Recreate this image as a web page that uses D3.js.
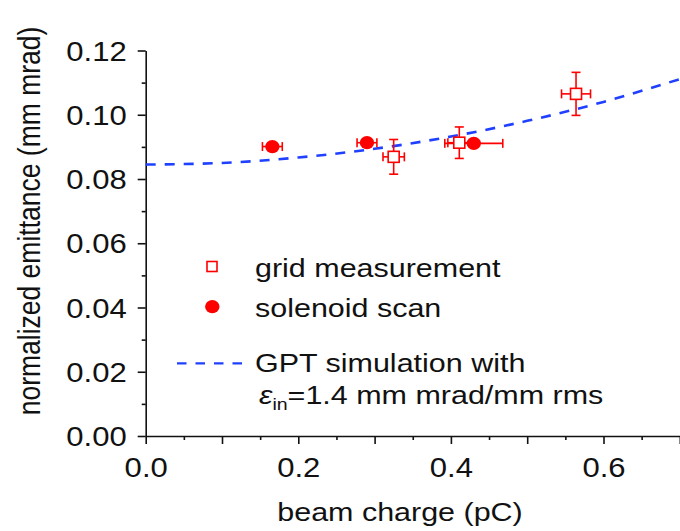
<!DOCTYPE html>
<html><head><meta charset="utf-8">
<script src="https://cdn.jsdelivr.net/npm/d3@7"></script>
<style>body{margin:0;background:#fff}svg{display:block}text{font-family:"Liberation Sans",Arial,Helvetica,sans-serif;fill:#111}</style>
</head><body>
<svg id="c" width="680" height="531"></svg>
<script>
// ---- data ----
const gridQ = [0.325, 0.411, 0.564];
const gridE = [0.0869, 0.0913, 0.1065];
const gridQErr = [0.014, 0.015, 0.019];
const gridEErr = [0.0054, 0.0049, 0.0067];
const solQ = [0.166, 0.290, 0.430];
const solE = [0.0901, 0.0913, 0.0911];
const solQErr = [0.013, 0.013, 0.038];
const solEErr = [0.0008, 0.0008, 0.0008];
const simQ = [0, 0.1, 0.2, 0.3, 0.4, 0.5, 0.6, 0.7];
const simE = [0.0845, 0.0850, 0.0867, 0.0894, 0.0932, 0.0981, 0.1040, 0.1111];
const xMajor = [0, 0.1, 0.2, 0.3, 0.4, 0.5, 0.6, 0.7];
const xLabels = [0, 0.2, 0.4, 0.6];
const xMinor = [0.05, 0.15, 0.25, 0.35, 0.45, 0.55, 0.65];
const yMajor = [0, 0.02, 0.04, 0.06, 0.08, 0.10, 0.12];
const yMinor = [0.01, 0.03, 0.05, 0.07, 0.09, 0.11];

const SX = 1.15; // horizontal stretch of the original figure's text
const RED = "#ff0000", BLUE = "#2040ff";
const svg = d3.select("#c");
const x = d3.scaleLinear().domain([0, 0.7]).range([145.7, 679.8]);
const y = d3.scaleLinear().domain([0, 0.12]).range([436, 50.5]);

// axes
const gx = svg.append("g").attr("transform", `translate(0,${y(0)})`);
gx.call(d3.axisBottom(x).tickValues(xMajor).tickSize(8).tickSizeOuter(0)
  .tickFormat(d => xLabels.some(v => Math.abs(v - d) < 1e-9) ? d3.format(".1f")(d) : ""));
gx.append("g").call(d3.axisBottom(x).tickValues(xMinor).tickSize(4).tickFormat(""))
  .select(".domain").remove();
gx.selectAll("text").attr("y", 0).attr("dy", 0)
  .attr("transform", `translate(0,41) scale(${SX},1)`).style("font-size", "27px");

const gy = svg.append("g").attr("transform", `translate(${x(0)},0)`);
gy.call(d3.axisLeft(y).tickValues(yMajor).tickSize(8).tickSizeOuter(0).tickFormat(d3.format(".2f")));
gy.append("g").call(d3.axisLeft(y).tickValues(yMinor).tickSize(4).tickFormat(""))
  .select(".domain").remove();
gy.selectAll("text").attr("x", 0).attr("dy", "0.36em")
  .attr("transform", `translate(-19,0) scale(${SX},1)`).style("font-size", "27px");
svg.selectAll(".domain, .tick line").attr("stroke", "#111").attr("stroke-width", 1.6);

// axis titles
svg.append("text").attr("transform", `translate(400,521) scale(${SX},1)`)
  .attr("text-anchor", "middle").style("font-size", "26.5px").text("beam charge (pC)");
svg.append("text").attr("transform", `translate(40,221) scale(${SX},1) rotate(-90)`)
  .attr("text-anchor", "middle").style("font-size", "26.5px").text("normalized emittance (mm mrad)");

// simulation curve
const simData = simQ.map((q, i) => [q, simE[i]]);
svg.append("path").datum(simData)
  .attr("d", d3.line().x(d => x(d[0])).y(d => y(d[1])).curve(d3.curveMonotoneX))
  .attr("fill", "none").attr("stroke", BLUE).attr("stroke-width", 2.6)
  .attr("stroke-dasharray", "10,9");

// error bars helper
function errBars(qs, es, qe, ee) {
  const g = svg.append("g").attr("stroke", RED).attr("stroke-width", 1.6).attr("fill", "none");
  const cap = 4.5;
  qs.forEach((q, i) => {
    const cx = x(q), cy = y(es[i]);
    const x0 = x(q - qe[i]), x1 = x(q + qe[i]);
    const y0 = y(es[i] - ee[i]), y1 = y(es[i] + ee[i]);
    g.append("line").attr("x1", x0).attr("x2", x1).attr("y1", cy).attr("y2", cy);
    g.append("line").attr("x1", x0).attr("x2", x0).attr("y1", cy - cap).attr("y2", cy + cap);
    g.append("line").attr("x1", x1).attr("x2", x1).attr("y1", cy - cap).attr("y2", cy + cap);
    g.append("line").attr("x1", cx).attr("x2", cx).attr("y1", y0).attr("y2", y1);
    g.append("line").attr("x1", cx - cap).attr("x2", cx + cap).attr("y1", y0).attr("y2", y0);
    g.append("line").attr("x1", cx - cap).attr("x2", cx + cap).attr("y1", y1).attr("y2", y1);
  });
}
errBars(gridQ, gridE, gridQErr, gridEErr);
errBars(solQ, solE, solQErr, solEErr);

// grid measurement squares
svg.append("g").selectAll("rect").data(gridQ).join("rect")
  .attr("x", (d) => x(d) - 5.5).attr("y", (d, i) => y(gridE[i]) - 5.5)
  .attr("width", 11).attr("height", 11)
  .attr("fill", "#fff").attr("stroke", RED).attr("stroke-width", 1.6);
// solenoid circles
svg.append("g").selectAll("ellipse").data(solQ).join("ellipse")
  .attr("cx", d => x(d)).attr("cy", (d, i) => y(solE[i]))
  .attr("rx", 7.2).attr("ry", 6.6).attr("fill", RED);

// legend
const lg = svg.append("g");
lg.append("rect").attr("x", 207).attr("y", 261.5).attr("width", 10).attr("height", 10)
  .attr("fill", "#fff").attr("stroke", RED).attr("stroke-width", 1.6);
lg.append("ellipse").attr("cx", 212.3).attr("cy", 306.7).attr("rx", 7.2).attr("ry", 6.6).attr("fill", RED);
lg.append("line").attr("x1", 177).attr("x2", 247).attr("y1", 363.3).attr("y2", 363.3)
  .attr("stroke", BLUE).attr("stroke-width", 2.2).attr("stroke-dasharray", "9.5,9");
function ltext(tx, ty, s) {
  return lg.append("text").attr("transform", `translate(${tx},${ty}) scale(${SX},1)`)
    .style("font-size", "26.5px").text(s);
}
ltext(255, 277, "grid measurement");
ltext(255, 317, "solenoid scan");
ltext(255, 372, "GPT simulation with");
const t4 = ltext(259, 404, null);
t4.append("tspan").style("font-style", "italic").text("ε");
t4.append("tspan").attr("dy", 6).style("font-size", "17px").text("in");
t4.append("tspan").attr("dy", -6).text("=1.4 mm mrad/mm rms");
</script>
</body></html>
